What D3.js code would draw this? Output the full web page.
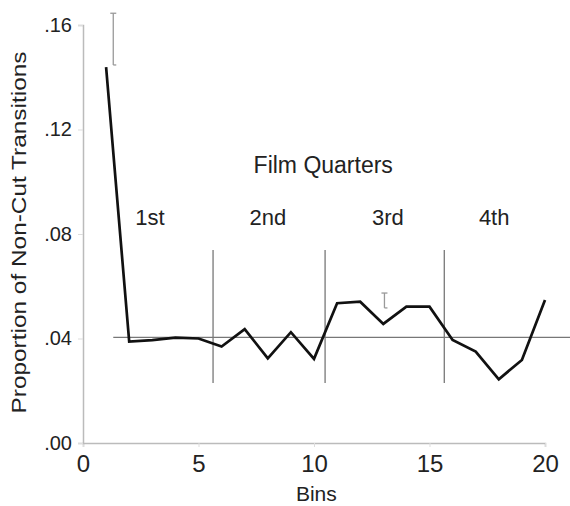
<!DOCTYPE html>
<html>
<head>
<meta charset="utf-8">
<script src="https://d3js.org/d3.v7.min.js"></script>
<style>
  body { margin: 0; background: #fff; }
  text { font-family: "Liberation Sans", Arial, sans-serif; fill: #222; }
</style>
</head>
<body>
<script>
// values
var bins = d3.range(1, 21);
var proportion = [0.1439, 0.0388, 0.0394, 0.0403, 0.0400, 0.0369, 0.0436, 0.0324, 0.0424, 0.0322,
                  0.0535, 0.0541, 0.0456, 0.0522, 0.0522, 0.0394, 0.0350, 0.0244, 0.0318, 0.0547];
var xTicks = [0, 5, 10, 15, 20];
var yTicks = [0, 0.04, 0.08, 0.12, 0.16];
var meanValue = 0.0404;
var quarterBreaks = [5.63, 10.48, 15.64];
var quarterLabels = ["1st", "2nd", "3rd", "4th"];
var quarterLabelX = [2.9, 8.0, 13.2, 17.8];
var errorBars = [{x: 1.31, lo: 0.1447, hi: 0.1645}, {x: 13.05, lo: 0.0517, hi: 0.0574}];

var width = 570, height = 506;
var x = d3.scaleLinear().domain([0, 20]).range([83, 545]);
var y = d3.scaleLinear().domain([0, 0.16]).range([443, 25]);

var svg = d3.select("body").append("svg")
  .attr("width", width)
  .attr("height", height);

// axes
var xAxis = svg.append("g")
  .attr("transform", "translate(0," + y(0) + ")")
  .call(d3.axisBottom(x).tickValues(xTicks).tickSize(4).tickPadding(8).tickFormat(d3.format("d")));
xAxis.select(".domain").attr("stroke", "#bbb").attr("stroke-width", 1.5);
xAxis.selectAll(".tick line").attr("stroke", "#ddd");
xAxis.selectAll(".tick text").style("font-size", "24px").attr("fill", "#222");

var yAxis = svg.append("g")
  .attr("transform", "translate(" + x(0) + ",0)")
  .call(d3.axisLeft(y).tickValues(yTicks).tickSize(5).tickPadding(6)
    .tickFormat(function(d) { return d3.format(".2f")(d).replace(/^0/, ""); }));
yAxis.select(".domain").attr("stroke", "#bbb").attr("stroke-width", 1.5);
yAxis.selectAll(".tick line").attr("stroke", "#ddd");
yAxis.selectAll(".tick text").style("font-size", "20px").attr("fill", "#222");

// axis titles
svg.append("text")
  .attr("x", x(10.1))
  .attr("y", 501)
  .attr("text-anchor", "middle")
  .style("font-size", "21px")
  .text("Bins");

svg.append("text")
  .attr("transform", "translate(26," + ((50 + 415) / 2) + ") rotate(-90)")
  .attr("text-anchor", "middle")
  .attr("textLength", 362)
  .attr("lengthAdjust", "spacingAndGlyphs")
  .style("font-size", "21px")
  .text("Proportion of Non-Cut Transitions");

// mean reference line
svg.append("line")
  .attr("x1", x(1.31)).attr("x2", width)
  .attr("y1", y(meanValue)).attr("y2", y(meanValue))
  .attr("stroke", "#777").attr("stroke-width", 1.3);

// quarter dividers
svg.selectAll(".quarter")
  .data(quarterBreaks)
  .enter().append("line")
  .attr("class", "quarter")
  .attr("x1", function(d) { return x(d); })
  .attr("x2", function(d) { return x(d); })
  .attr("y1", y(0.0739))
  .attr("y2", y(0.0230))
  .attr("stroke", "#777").attr("stroke-width", 1.3);

svg.append("text")
  .attr("x", x(10.4))
  .attr("y", y(0.1033))
  .attr("text-anchor", "middle")
  .style("font-size", "23px")
  .text("Film Quarters");

svg.selectAll(".qlabel")
  .data(quarterLabels)
  .enter().append("text")
  .attr("class", "qlabel")
  .attr("x", function(d, i) { return x(quarterLabelX[i]); })
  .attr("y", y(0.0834))
  .attr("text-anchor", "middle")
  .style("font-size", "22px")
  .text(function(d) { return d; });

// error bars
var eb = svg.selectAll(".err").data(errorBars).enter().append("g").attr("class", "err")
  .attr("stroke", "#999").attr("stroke-width", 1.3);
eb.append("line")
  .attr("x1", function(d) { return x(d.x); }).attr("x2", function(d) { return x(d.x); })
  .attr("y1", function(d) { return y(d.lo); }).attr("y2", function(d) { return y(d.hi); });
eb.append("line")
  .attr("x1", function(d) { return x(d.x) - 3; }).attr("x2", function(d) { return x(d.x) + 3; })
  .attr("y1", function(d) { return y(d.hi); }).attr("y2", function(d) { return y(d.hi); });
eb.append("line")
  .attr("x1", function(d) { return x(d.x); }).attr("x2", function(d) { return x(d.x) + 3; })
  .attr("y1", function(d) { return y(d.lo); }).attr("y2", function(d) { return y(d.lo); });

// data line
var line = d3.line()
  .x(function(d, i) { return x(bins[i]); })
  .y(function(d) { return y(d); });

svg.append("path")
  .datum(proportion)
  .attr("d", line)
  .attr("fill", "none")
  .attr("stroke", "#111")
  .attr("stroke-width", 2.7)
  .attr("stroke-linejoin", "miter");
</script>
</body>
</html>
